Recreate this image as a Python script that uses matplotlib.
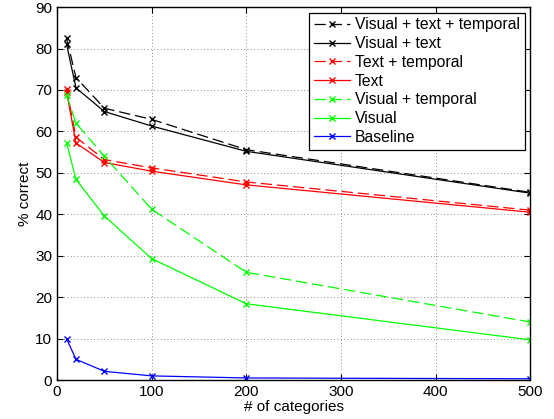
import matplotlib
matplotlib.use("Agg")
import matplotlib.pyplot as plt

plt.rcParams['font.family'] = ['Liberation Sans', 'DejaVu Sans']

n_categories = [10, 20, 50, 100, 200, 500]

visual_text_temporal = [82.5, 73.0, 65.6, 62.9, 55.6, 45.3]
visual_text = [81.1, 70.5, 64.8, 61.3, 55.2, 45.1]
text_temporal = [70.3, 58.6, 53.2, 51.2, 47.8, 41.0]
text = [69.6, 57.2, 52.5, 50.4, 47.1, 40.5]
visual_temporal = [68.8, 62.0, 54.0, 41.2, 26.0, 14.0]
visual = [57.3, 48.4, 39.6, 29.3, 18.4, 9.7]
baseline = [10.0, 5.0, 2.1, 1.0, 0.5, 0.3]

series = [
  ("Visual + text + temporal", visual_text_temporal, 'k', (0, (9, 4))),
  ("Visual + text", visual_text, 'k', '-'),
  ("Text + temporal", text_temporal, 'r', (0, (9, 4))),
  ("Text", text, 'r', '-'),
  ("Visual + temporal", visual_temporal, '#00ff00', (0, (9, 4))),
  ("Visual", visual, '#00ff00', '-'),
  ("Baseline", baseline, 'b', '-'),
]

fig = plt.figure(figsize=(5.54, 4.19), dpi=100)
ax = fig.add_axes([0.103, 0.093, 0.854, 0.890])

for label, y, c, ls in series:
  ax.plot(n_categories, y, color=c, linestyle=ls, marker='x', markersize=5,
          linewidth=0.9, label=label)

ax.set_xlim(0, 500)
ax.set_ylim(0, 90)
ax.set_xticks(range(0, 501, 100))
ax.set_yticks(range(0, 91, 10))
ax.tick_params(direction='in', top=True, right=True, labelsize=11, length=4)
ax.grid(True, linestyle=(0, (1, 3)), color='k', linewidth=0.6, alpha=0.6)
for s in ax.spines.values():
  s.set_linewidth(1.0)

ax.set_xlabel("# of categories", fontsize=11, labelpad=1)
ax.set_ylabel("% correct", fontsize=11, labelpad=2)

leg = ax.legend(loc='upper right', fontsize=11.3, fancybox=False, framealpha=1,
                edgecolor='k', labelspacing=0.24, handlelength=2.3,
                handletextpad=0.3, borderpad=0.3, borderaxespad=0.35,
                markerscale=0.8)
leg.get_frame().set_linewidth(0.9)

fig.savefig("out.png", dpi=100)
